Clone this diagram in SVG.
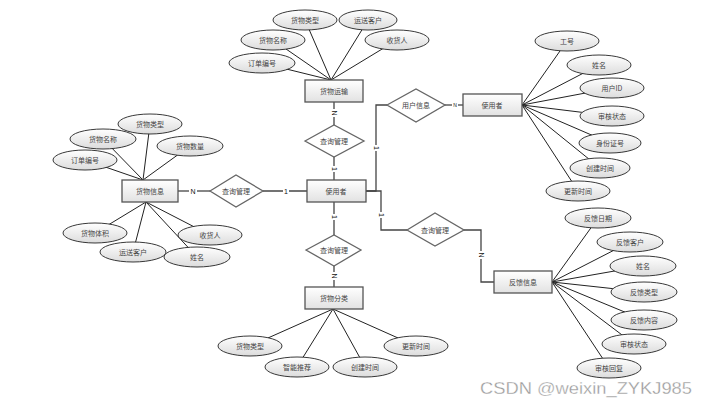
<svg xmlns="http://www.w3.org/2000/svg" width="708" height="407" viewBox="0 0 708 407">
<defs>
<linearGradient id="ge" x1="0" y1="0" x2="0" y2="1"><stop offset="0" stop-color="#ffffff"/><stop offset="1" stop-color="#dcdcdc"/></linearGradient>
<linearGradient id="gr" x1="0" y1="0" x2="0" y2="1"><stop offset="0" stop-color="#ffffff"/><stop offset="1" stop-color="#e2e2e2"/></linearGradient>
<style>
.ent{fill:url(#gr);stroke:#555;stroke-width:1.3}
.attr{fill:url(#ge);stroke:#222;stroke-width:0.9}
.rel{fill:#fff;stroke:#666;stroke-width:1.3}
.ln{stroke:#222;stroke-width:1;fill:none}
.cn{stroke:#444;stroke-width:1.3;fill:none}
.t{font-family:"Noto Sans CJK SC","Liberation Sans",sans-serif;font-size:7px;fill:#444;text-anchor:middle;dominant-baseline:central}
.lb{font-family:"Liberation Sans",sans-serif;font-size:7px;fill:#111;text-anchor:middle;dominant-baseline:central}
.bg{fill:#fff}
</style>
</defs>
<rect width="708" height="407" fill="#fff"/>

<g id="attr-lines">
<path class="ln" d="M331,80L305,20M331,80L368,20M331,80L273,40M331,80L397,40M331,80L262,63"/>
<path class="ln" d="M143,180L150,124M143,180L103,139M143,180L190,146M143,180L85,160"/>
<path class="ln" d="M146,202L95,233M146,202L210,235M146,202L133,252M146,202L197,257"/>
<path class="ln" d="M522,105L567,41M522,105L599,65M522,105L612,88M522,105L612,116M522,105L610,143M522,105L600,168M522,105L578,191"/>
<path class="ln" d="M552,282L598,218M552,282L630,242M552,282L643,266M552,282L644,292M552,282L644,320M552,282L634,344M552,282L609,368"/>
<path class="ln" d="M333,309L250,346M333,309L297,367M333,309L365,367M333,309L416,346"/>
</g>

<g id="connectors">
<path class="cn" d="M334,102V125"/>
<path class="cn" d="M334,157V180"/>
<path class="cn" d="M178,191H210"/>
<path class="cn" d="M263,191H307"/>
<path class="cn" d="M334,202V235"/>
<path class="cn" d="M334,266V287"/>
<path class="cn" d="M366,191H376V105H387"/>
<path class="cn" d="M445,105H463"/>
<path class="cn" d="M366,191H381V230H407"/>
<path class="cn" d="M464,230H481V282H494"/>
<rect class="bg" x="330" y="109" width="8" height="8"/><text class="lb" transform="translate(334,113) rotate(90)">N</text>
<rect class="bg" x="330" y="166" width="8" height="6"/><text class="lb" transform="translate(334,169) rotate(90)">1</text>
<rect class="bg" x="189" y="187" width="8" height="8"/><text class="lb" x="193" y="191">N</text>
<rect class="bg" x="283" y="187" width="6" height="8"/><text class="lb" x="286" y="191">1</text>
<rect class="bg" x="330" y="214" width="8" height="6"/><text class="lb" transform="translate(334,217) rotate(90)">1</text>
<rect class="bg" x="330" y="272" width="8" height="8"/><text class="lb" transform="translate(334,276) rotate(90)">N</text>
<rect class="bg" x="372" y="145" width="8" height="6"/><text class="lb" transform="translate(376,148) rotate(90)">1</text>
<rect class="bg" x="452" y="102" width="6" height="6"/><text class="lb" x="455" y="105" style="font-size:5px">N</text>
<rect class="bg" x="377" y="212" width="8" height="6"/><text class="lb" transform="translate(381,215) rotate(90)">1</text>
<rect class="bg" x="477" y="251" width="8" height="8"/><text class="lb" transform="translate(481,255) rotate(90)">N</text>
</g>

<g id="e-huowuyunshu"><rect class="ent" x="305" y="80" width="58" height="22"/><text class="t" x="334" y="91">货物运输</text></g>
<g id="e-shiyongzhe"><rect class="ent" x="307" y="180" width="59" height="22"/><text class="t" x="336" y="191">使用者</text></g>
<g id="e-huowuxinxi"><rect class="ent" x="122" y="180" width="56" height="22"/><text class="t" x="150" y="191">货物信息</text></g>
<g id="e-huowufenlei"><rect class="ent" x="305" y="287" width="58" height="22"/><text class="t" x="334" y="298">货物分类</text></g>
<g id="e-shiyongzhe2"><rect class="ent" x="463" y="94" width="59" height="22"/><text class="t" x="492" y="105">使用者</text></g>
<g id="e-fankuixinxi"><rect class="ent" x="494" y="271" width="58" height="22"/><text class="t" x="523" y="282">反馈信息</text></g>

<g id="r-top"><polygon class="rel" points="305,141 334,125 364,141 334,157"/><text class="t" x="334" y="141">查询管理</text></g>
<g id="r-left"><polygon class="rel" points="210,191 236,175 263,191 236,207"/><text class="t" x="236" y="191">查询管理</text></g>
<g id="r-bottom"><polygon class="rel" points="306,250 334,235 361,250 334,266"/><text class="t" x="334" y="250">查询管理</text></g>
<g id="r-yonghu"><polygon class="rel" points="387,105 416,89 445,105 416,122"/><text class="t" x="416" y="105">用户信息</text></g>
<g id="r-right"><polygon class="rel" points="407,230 435,213 464,230 435,246"/><text class="t" x="435" y="230">查询管理</text></g>

<g id="a-top">
<ellipse class="attr" cx="305" cy="20" rx="32" ry="10"/><text class="t" x="305" y="20">货物类型</text>
<ellipse class="attr" cx="368" cy="20" rx="29" ry="10"/><text class="t" x="368" y="20">运送客户</text>
<ellipse class="attr" cx="273" cy="40" rx="32" ry="10"/><text class="t" x="273" y="40">货物名称</text>
<ellipse class="attr" cx="397" cy="40" rx="32" ry="10"/><text class="t" x="397" y="40">收货人</text>
<ellipse class="attr" cx="262" cy="63" rx="33" ry="10"/><text class="t" x="262" y="63">订单编号</text>
</g>
<g id="a-left">
<ellipse class="attr" cx="150" cy="124" rx="32" ry="10"/><text class="t" x="150" y="124">货物类型</text>
<ellipse class="attr" cx="103" cy="139" rx="33" ry="10"/><text class="t" x="103" y="139">货物名称</text>
<ellipse class="attr" cx="190" cy="146" rx="33" ry="10"/><text class="t" x="190" y="146">货物数量</text>
<ellipse class="attr" cx="85" cy="160" rx="32" ry="10"/><text class="t" x="85" y="160">订单编号</text>
<ellipse class="attr" cx="95" cy="233" rx="32" ry="10"/><text class="t" x="95" y="233">货物体积</text>
<ellipse class="attr" cx="210" cy="235" rx="32" ry="10"/><text class="t" x="210" y="235">收货人</text>
<ellipse class="attr" cx="133" cy="252" rx="33" ry="10"/><text class="t" x="133" y="252">运送客户</text>
<ellipse class="attr" cx="197" cy="257" rx="33" ry="10"/><text class="t" x="197" y="257">姓名</text>
</g>
<g id="a-user">
<ellipse class="attr" cx="567" cy="41" rx="32" ry="10"/><text class="t" x="567" y="41">工号</text>
<ellipse class="attr" cx="599" cy="65" rx="32" ry="10"/><text class="t" x="599" y="65">姓名</text>
<ellipse class="attr" cx="612" cy="88" rx="32" ry="10"/><text class="t" x="612" y="88">用户ID</text>
<ellipse class="attr" cx="612" cy="116" rx="32" ry="10"/><text class="t" x="612" y="116">审核状态</text>
<ellipse class="attr" cx="610" cy="143" rx="31" ry="10"/><text class="t" x="610" y="143">身份证号</text>
<ellipse class="attr" cx="600" cy="168" rx="30" ry="10"/><text class="t" x="600" y="168">创建时间</text>
<ellipse class="attr" cx="578" cy="191" rx="32" ry="10"/><text class="t" x="578" y="191">更新时间</text>
</g>
<g id="a-feedback">
<ellipse class="attr" cx="598" cy="218" rx="33" ry="10"/><text class="t" x="598" y="218">反馈日期</text>
<ellipse class="attr" cx="630" cy="242" rx="33" ry="10"/><text class="t" x="630" y="242">反馈客户</text>
<ellipse class="attr" cx="643" cy="266" rx="33" ry="10"/><text class="t" x="643" y="266">姓名</text>
<ellipse class="attr" cx="644" cy="292" rx="33" ry="10"/><text class="t" x="644" y="292">反馈类型</text>
<ellipse class="attr" cx="644" cy="320" rx="33" ry="10"/><text class="t" x="644" y="320">反馈内容</text>
<ellipse class="attr" cx="634" cy="344" rx="32" ry="10"/><text class="t" x="634" y="344">审核状态</text>
<ellipse class="attr" cx="609" cy="368" rx="32" ry="10"/><text class="t" x="609" y="368">审核回复</text>
</g>
<g id="a-category">
<ellipse class="attr" cx="250" cy="346" rx="32" ry="10"/><text class="t" x="250" y="346">货物类型</text>
<ellipse class="attr" cx="297" cy="367" rx="32" ry="10"/><text class="t" x="297" y="367">智能推荐</text>
<ellipse class="attr" cx="365" cy="367" rx="32" ry="10"/><text class="t" x="365" y="367">创建时间</text>
<ellipse class="attr" cx="416" cy="346" rx="32" ry="10"/><text class="t" x="416" y="346">更新时间</text>
</g>

<text x="480" y="394" textLength="212" lengthAdjust="spacingAndGlyphs" style="font-family:'Liberation Sans',sans-serif;font-size:17px;fill:#9a9a9a;stroke:#fff;stroke-width:0.3">CSDN @weixin_ZYKJ985</text>
</svg>
